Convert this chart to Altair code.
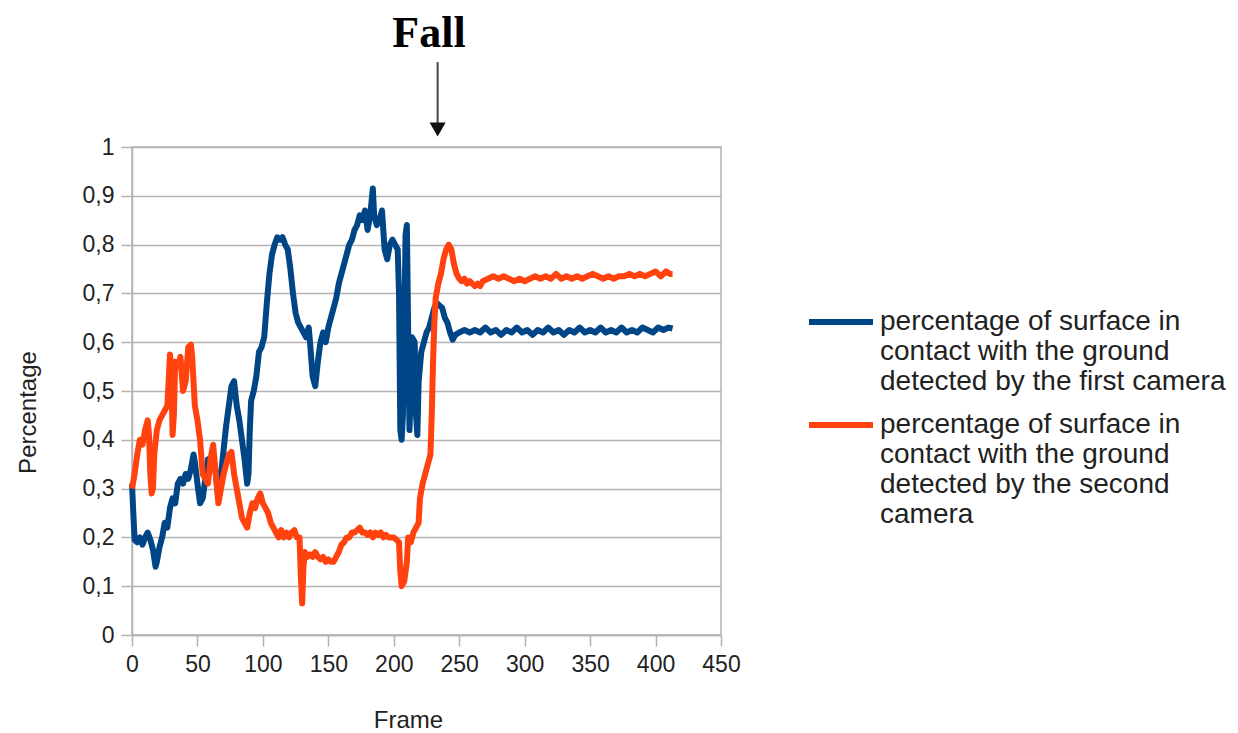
import altair as alt
import pandas as pd

# ---------------- data ----------------
series_names = [
    "percentage of surface in\ncontact with the ground\ndetected by the first camera",
    "percentage of surface in\ncontact with the ground\ndetected by the second\ncamera",
]
series_colors = ["#004586", "#ff420e"]

blue_frames = [0, 1, 2, 4, 6, 8, 10, 12, 14, 16, 18, 19, 21, 23, 25, 27, 29, 31, 33, 35,
               37, 39, 41, 43, 45, 47, 48, 50, 52, 54, 56, 58, 60, 62, 64, 66, 68, 70, 72, 74,
               76, 78, 80, 82, 84, 86, 88, 89, 90, 91, 93, 95, 97, 99, 101, 103, 105, 107, 109, 111,
               113, 115, 117, 119, 121, 123, 125, 127, 129, 131, 133, 135, 136, 138, 140, 142, 144, 146, 148, 150,
               152, 154, 156, 158, 160, 162, 164, 166, 168, 170, 172, 174, 176, 178, 180, 182, 184, 185, 187, 189,
               191, 193, 195, 197, 199, 201, 203, 204, 205, 206, 207, 208, 209, 210, 211, 212, 213, 214, 216, 217,
               218, 219, 221, 223, 225, 227, 229, 231, 233, 235, 237, 239, 241, 243, 245, 247,
               250, 254, 258, 262, 266, 270, 274, 278, 282, 286, 290, 294, 298, 302, 306, 310, 314, 318, 322, 326,
               330, 334, 338, 342, 346, 350, 354, 358, 362, 366, 370, 374, 378, 382, 386, 390, 394, 398, 402, 406,
               410, 413]
blue_values = [0.31, 0.25, 0.195, 0.19, 0.20, 0.185, 0.20, 0.21, 0.195, 0.175, 0.14, 0.15, 0.18, 0.20, 0.23, 0.22, 0.26, 0.28, 0.27, 0.31,
               0.32, 0.31, 0.33, 0.32, 0.34, 0.37, 0.355, 0.31, 0.27, 0.28, 0.32, 0.36, 0.35, 0.37, 0.33, 0.28, 0.33, 0.38, 0.43, 0.47,
               0.51, 0.52, 0.47, 0.44, 0.40, 0.36, 0.31, 0.33, 0.42, 0.48, 0.50, 0.53, 0.58, 0.59, 0.61, 0.68, 0.74, 0.78, 0.80, 0.815,
               0.81, 0.815, 0.80, 0.79, 0.75, 0.70, 0.66, 0.64, 0.63, 0.62, 0.61, 0.63, 0.60, 0.53, 0.51, 0.56, 0.60, 0.62, 0.60, 0.63,
               0.65, 0.67, 0.69, 0.72, 0.74, 0.76, 0.78, 0.80, 0.81, 0.83, 0.84, 0.86, 0.85, 0.87, 0.83, 0.86, 0.915, 0.86, 0.84, 0.85,
               0.87, 0.79, 0.77, 0.80, 0.81, 0.80, 0.79, 0.70, 0.42, 0.40, 0.45, 0.62, 0.82, 0.84, 0.62, 0.42, 0.50, 0.61, 0.60, 0.45,
               0.41, 0.52, 0.58, 0.60, 0.62, 0.63, 0.65, 0.67, 0.68, 0.675, 0.67, 0.65, 0.64, 0.62, 0.605, 0.615,
               0.62, 0.625, 0.62, 0.625, 0.62, 0.63, 0.62, 0.625, 0.615, 0.625, 0.62, 0.63, 0.62, 0.625, 0.615, 0.625, 0.62, 0.63, 0.62, 0.625,
               0.615, 0.625, 0.62, 0.63, 0.62, 0.625, 0.62, 0.63, 0.62, 0.625, 0.62, 0.63, 0.62, 0.625, 0.62, 0.63, 0.625, 0.62, 0.63, 0.625,
               0.63, 0.628]

orange_frames = [0, 2, 4, 6, 8, 10, 12, 13, 14, 15, 16, 17, 19, 21, 23, 25, 27, 28, 29, 30,
                 31, 32, 33, 35, 37, 39, 41, 43, 45, 46, 48, 50, 52, 54, 56, 58, 60, 62, 64, 66,
                 68, 70, 72, 74, 76, 78, 80, 82, 84, 86, 88, 90, 92, 94, 96, 98, 100, 102, 104, 106,
                 108, 110, 112, 114, 116, 118, 120, 122, 124, 126, 128, 129, 130, 131, 132, 134, 136, 138, 140, 142,
                 144, 146, 148, 150, 152, 154, 156, 158, 160, 162, 164, 166, 168, 170, 172, 174, 176, 178, 180, 182,
                 184, 186, 188, 190, 192, 194, 196, 198, 200, 202, 204, 205, 206, 208, 210, 211, 213, 215, 217, 219,
                 220, 222, 224, 226, 228, 229, 230, 231, 232, 234, 236, 238, 240, 242, 244, 246, 248, 250, 252, 254,
                 256, 258, 260, 262, 264, 266, 268,
                 272, 276, 280, 284, 288, 292, 296, 300, 304, 308, 312, 316, 320, 324, 328, 332, 336, 340, 344, 348,
                 352, 356, 360, 364, 368, 372, 376, 380, 384, 388, 392, 396, 400, 404, 408, 411, 413]
orange_values = [0.30, 0.33, 0.37, 0.40, 0.39, 0.42, 0.44, 0.41, 0.33, 0.29, 0.30, 0.37, 0.42, 0.44, 0.45, 0.46, 0.47, 0.52, 0.575, 0.55,
                 0.41, 0.45, 0.56, 0.55, 0.57, 0.50, 0.52, 0.59, 0.595, 0.57, 0.47, 0.44, 0.40, 0.33, 0.32, 0.31, 0.36, 0.39, 0.33, 0.27,
                 0.30, 0.33, 0.35, 0.37, 0.375, 0.33, 0.30, 0.27, 0.24, 0.23, 0.22, 0.25, 0.27, 0.26, 0.28, 0.29, 0.27, 0.26, 0.25, 0.23,
                 0.22, 0.21, 0.20, 0.215, 0.20, 0.21, 0.20, 0.21, 0.215, 0.20, 0.20, 0.12, 0.065, 0.14, 0.17, 0.16, 0.165, 0.16, 0.17, 0.16,
                 0.155, 0.16, 0.15, 0.155, 0.15, 0.15, 0.16, 0.17, 0.185, 0.19, 0.20, 0.20, 0.21, 0.21, 0.215, 0.22, 0.21, 0.21, 0.205, 0.21,
                 0.20, 0.21, 0.205, 0.21, 0.20, 0.205, 0.20, 0.20, 0.20, 0.195, 0.19, 0.13, 0.10, 0.11, 0.15, 0.20, 0.19, 0.21, 0.22, 0.23,
                 0.28, 0.31, 0.33, 0.35, 0.37, 0.45, 0.56, 0.64, 0.69, 0.72, 0.74, 0.77, 0.79, 0.80, 0.79, 0.76, 0.74, 0.73, 0.725, 0.73,
                 0.72, 0.725, 0.72, 0.715, 0.72, 0.715, 0.725,
                 0.73, 0.735, 0.73, 0.735, 0.73, 0.725, 0.73, 0.725, 0.73, 0.735, 0.73, 0.735, 0.73, 0.74, 0.73, 0.735, 0.73, 0.735, 0.73, 0.735,
                 0.74, 0.735, 0.73, 0.735, 0.73, 0.735, 0.735, 0.74, 0.735, 0.74, 0.735, 0.74, 0.745, 0.735, 0.745, 0.74, 0.74]

x_ticks = [0, 50, 100, 150, 200, 250, 300, 350, 400, 450]
y_ticks = [0, 0.1, 0.2, 0.3, 0.4, 0.5, 0.6, 0.7, 0.8, 0.9, 1]

# "Fall" annotation arrow (frame and heights in data units)
fall_frame = [233.5]
arrow_top = [1.174]
arrow_bottom = [1.047]
arrow_head = [1.036]

# ---------------- build tables ----------------
df = pd.concat([
    pd.DataFrame({"Frame": blue_frames, "Percentage": blue_values, "series": series_names[0]}),
    pd.DataFrame({"Frame": orange_frames, "Percentage": orange_values, "series": series_names[1]}),
], ignore_index=True)
arrow_df = pd.DataFrame({"f": fall_frame, "top": arrow_top, "bottom": arrow_bottom, "head": arrow_head})

FONT = "Liberation Sans"

x_enc = alt.X("Frame:Q",
              scale=alt.Scale(domain=[0, 450], nice=False),
              axis=alt.Axis(values=x_ticks, grid=False, title="Frame", labelFlush=False,
                            titleX=276, titleY=92, titleBaseline="alphabetic"))
y_enc = alt.Y("Percentage:Q",
              scale=alt.Scale(domain=[0, 1], nice=False),
              axis=alt.Axis(values=y_ticks, grid=True, title="Percentage", labelFlush=False,
                            labelExpr="replace(format(datum.value, '.1~f'), '.', ',')",
                            titleX=-97, titleY=265, titleAngle=-90,
                            titleBaseline="alphabetic", titleAlign="center"))
color_enc = alt.Color("series:N",
                      scale=alt.Scale(domain=series_names, range=series_colors),
                      legend=alt.Legend(orient="none", legendX=695, legendY=161, title=None,
                                        symbolType="M-4,0H4", symbolSize=256, symbolStrokeWidth=6,
                                        labelFont=FONT, labelFontSize=28, labelColor="#222222",
                                        labelLimit=800, labelOffset=25, rowPadding=15, padding=0,
                                        labelExpr="split(datum.label, '\\n')"))

base = alt.Chart(df)
blue_line = base.transform_filter(alt.datum.series == series_names[0]).mark_line(
    strokeWidth=6, strokeJoin="round").encode(x=x_enc, y=y_enc, color=color_enc, order="Frame:Q")
orange_line = base.transform_filter(alt.datum.series == series_names[1]).mark_line(
    strokeWidth=6, strokeJoin="round").encode(x=x_enc, y=y_enc, color=color_enc, order="Frame:Q")

arrow_rule = alt.Chart(arrow_df).mark_rule(color="#444444", strokeWidth=2).encode(
    x="f:Q", y="top:Q", y2="bottom:Q")
arrow_tip = alt.Chart(arrow_df).mark_point(shape="triangle-down", filled=True, color="#111111",
                                           size=260, opacity=1).encode(x="f:Q", y="head:Q")

chart = alt.layer(blue_line, orange_line, arrow_rule, arrow_tip).properties(
    width=589, height=488,
    background="white",
    padding={"left": 8, "top": 4, "right": 2, "bottom": 0},
    title=alt.TitleParams("Fall", font="Liberation Serif", fontSize=44, fontWeight="bold",
                          color="#000000", anchor="middle", dx=2.5, offset=5),
).configure_view(stroke="#b3b3b3", strokeWidth=1.5).configure_axis(
    gridColor="#b3b3b3", gridWidth=1.5, domainColor="#b3b3b3", domainWidth=1.5,
    tickColor="#b3b3b3", tickWidth=1.5, tickSize=11,
    labelFont=FONT, labelFontSize=23, labelColor="#222222", labelPadding=7,
    titleFont=FONT, titleFontSize=24, titleFontWeight="normal", titleColor="#222222",
)

chart.save("out.html", embed_options={"renderer": "svg", "actions": False})
